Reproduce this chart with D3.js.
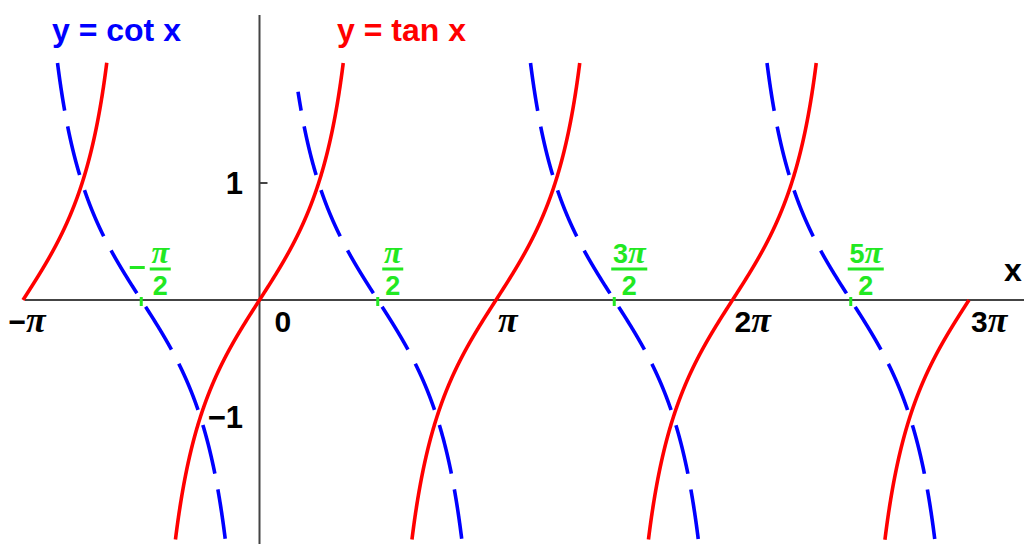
<!DOCTYPE html>
<html>
<head>
<meta charset="utf-8">
<script src="https://cdn.jsdelivr.net/npm/d3@7"></script>
<style>
  html, body { margin: 0; padding: 0; background: #fff; }
  svg { display: block; }
  text { font-family: "Liberation Sans", Arial, sans-serif; font-weight: bold; }
  .pi { font-family: "Liberation Serif", "Times New Roman", serif; font-style: italic; font-size: 1.2em; }
</style>
</head>
<body>
<svg id="chart" width="1024" height="544"></svg>
<script>
// Branch intervals, in multiples of π, on which each function is drawn
const tanBranches = [[-1, -0.5], [-0.5, 0.5], [0.5, 1.5], [1.5, 2.5], [2.5, 3]];
const cotBranches = [[-1, 0], [0.163, 1], [1, 2], [2, 3]];
// Vertical extent of the drawn curves
const yLimits = [-2.05, 2.03];

// Axis labels
const xTickValues = [-1, 0, 1, 2, 3];                 // multiples of π
const xTickLabels = ["−", "0", "", "2", "3"];         // prefix text before π
const xTickHasPi  = [true, false, true, true, true];
const yTickValues = [1, -1];
const yTickLabels = ["1", "−1"];

// Zeros of cot x, labelled as fractions of π
const cotZeros      = [-0.5, 0.5, 1.5, 2.5];          // multiples of π
const zeroNumerPre  = ["", "", "3", "5"];
const zeroNegative  = [true, false, false, false];

const titles = [
  { text: "y = cot x", color: "#0000ff" },
  { text: "y = tan x", color: "#ff0000" }
];

const PI = Math.PI;
const svg = d3.select("#chart");

const x = d3.scaleLinear().domain([-PI, 3 * PI]).range([23, 969]);
const y = d3.scaleLinear().domain([0, 1]).range([300, 183]);

const axisColor = "#444";
const green = "#22e822";

// --- axes ---
svg.append("line")
  .attr("x1", 25).attr("x2", 1024)
  .attr("y1", y(0)).attr("y2", y(0))
  .attr("stroke", axisColor).attr("stroke-width", 2);
svg.append("line")
  .attr("x1", x(0)).attr("x2", x(0))
  .attr("y1", 15).attr("y2", 544)
  .attr("stroke", axisColor).attr("stroke-width", 2);
// tick at y = 1
svg.append("line")
  .attr("x1", x(0)).attr("x2", x(0) + 8)
  .attr("y1", y(1)).attr("y2", y(1))
  .attr("stroke", axisColor).attr("stroke-width", 2);

// --- function curves ---
function sampleBranch(fn, a, b) {
  const n = 3000, pts = [];
  const eps = 1e-6;
  for (let i = 0; i <= n; i++) {
    const t = (a + (b - a) * i / n) * PI;
    const tt = Math.min(Math.max(t, a * PI + eps), b * PI - eps);
    const v = fn(tt);
    if (v >= yLimits[0] && v <= yLimits[1]) pts.push([tt, v]);
  }
  return pts;
}
const tanFn = t => Math.tan(t);
const cotFn = t => 1 / Math.tan(t);

const line = d3.line().x(d => x(d[0])).y(d => y(d[1]));

svg.append("g").selectAll("path")
  .data(tanBranches.map(b => sampleBranch(tanFn, b[0], b[1])))
  .join("path")
  .attr("d", line)
  .attr("fill", "none")
  .attr("stroke", "#ff0000")
  .attr("stroke-width", 3.6)
  .attr("stroke-linejoin", "round");

// dashed cot: place a gap centred on each zero crossing
const dash = 50, gap = 16, period = dash + gap;
const cotData = cotBranches.map(b => sampleBranch(cotFn, b[0], b[1]));
svg.append("g").selectAll("path")
  .data(cotData)
  .join("path")
  .attr("d", line)
  .attr("fill", "none")
  .attr("stroke", "#0000ff")
  .attr("stroke-width", 3.6)
  .attr("stroke-dasharray", dash + "," + gap)
  .attr("stroke-dashoffset", pts => {
    let L0 = 0;
    for (let i = 1; i < pts.length; i++) {
      if (pts[i - 1][1] < 0) break;
      L0 += Math.hypot(x(pts[i][0]) - x(pts[i - 1][0]), y(pts[i][1]) - y(pts[i - 1][1]));
    }
    let off = (dash + gap / 2 - L0) % period;
    if (off < 0) off += period;
    return off;
  });

// --- green zero markers and fraction labels ---
const zg = svg.append("g").attr("fill", green);
cotZeros.forEach((z, i) => {
  const cx = x(z * PI);
  zg.append("rect")
    .attr("x", cx - 1.5).attr("y", y(0) - 3)
    .attr("width", 3).attr("height", 9);

  const fx = cx + (zeroNegative[i] ? 19 : 15);
  const num = zg.append("text")
    .attr("x", fx).attr("y", 263)
    .attr("text-anchor", "middle")
    .attr("font-size", 27);
  if (zeroNumerPre[i]) num.append("tspan").text(zeroNumerPre[i]);
  num.append("tspan").attr("class", "pi").text("π");
  const w = Math.max(num.node().getBBox().width, 18) + 2;
  zg.append("rect")
    .attr("x", fx - w / 2).attr("y", 267.5)
    .attr("width", w).attr("height", 3);
  zg.append("text")
    .attr("x", fx).attr("y", 295)
    .attr("text-anchor", "middle")
    .attr("font-size", 27)
    .text("2");
  if (zeroNegative[i]) {
    zg.append("rect")
      .attr("x", fx - w / 2 - 20).attr("y", 266)
      .attr("width", 15).attr("height", 3);
  }
});

// --- x tick labels ---
xTickValues.forEach((v, i) => {
  const tx = x(v * PI);
  let px, anchor;
  if (v < 0) { px = tx + 4; anchor = "middle"; }
  else if (v === 0) { px = tx + 15; anchor = "start"; }
  else { px = tx + 2; anchor = "start"; }
  const t = svg.append("text")
    .attr("x", px).attr("y", 332)
    .attr("text-anchor", anchor)
    .attr("font-size", 30)
    .attr("fill", "#000");
  if (xTickLabels[i]) t.append("tspan").text(xTickLabels[i]);
  if (xTickHasPi[i]) t.append("tspan").attr("class", "pi").text("π");
});

// --- y tick labels ---
yTickValues.forEach((v, i) => {
  svg.append("text")
    .attr("x", 243).attr("y", y(v) + 11)
    .attr("text-anchor", "end")
    .attr("font-size", 31)
    .attr("fill", "#000")
    .text(yTickLabels[i]);
});

// axis name
svg.append("text")
  .attr("x", 1004).attr("y", 281)
  .attr("font-size", 32)
  .attr("fill", "#000")
  .text("x");

// --- curve titles ---
svg.append("text")
  .attr("x", 52).attr("y", 41)
  .attr("font-size", 32)
  .attr("fill", titles[0].color)
  .text(titles[0].text);
svg.append("text")
  .attr("x", 337).attr("y", 41)
  .attr("font-size", 32)
  .attr("fill", titles[1].color)
  .text(titles[1].text);
</script>
</body>
</html>
